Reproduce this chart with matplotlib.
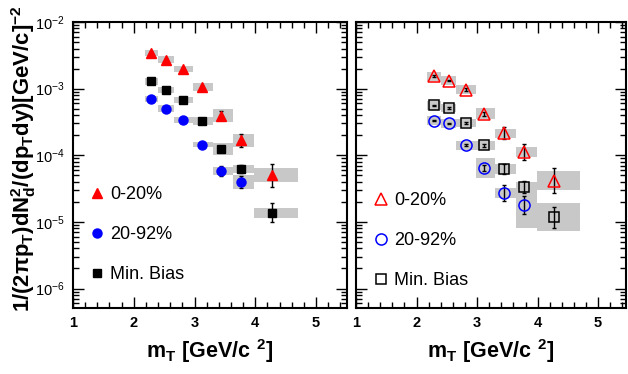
import numpy as np
import matplotlib
matplotlib.use('Agg')
import matplotlib.pyplot as plt
from matplotlib.ticker import MultipleLocator, LogLocator, NullFormatter

plt.rcParams['font.family'] = ['Liberation Sans', 'DejaVu Sans']
plt.rcParams['mathtext.fontset'] = 'custom'
plt.rcParams['mathtext.rm'] = 'Liberation Sans:bold'
plt.rcParams['mathtext.it'] = 'Liberation Sans:bold'
plt.rcParams['mathtext.bf'] = 'Liberation Sans:bold'
plt.rcParams['mathtext.default'] = 'rm'

# m_T bin edges and centres [GeV/c^2]
mt_edges = [2.18, 2.40, 2.66, 2.98, 3.30, 3.635, 3.985, 4.70]
mt = [2.29, 2.535, 2.815, 3.12, 3.44, 3.77, 4.275]

labels = ['0-20%', '20-92%', 'Min. Bias']

# left panel: yields, relative stat. and syst. errors
left_y = {
    '0-20%': [3.47e-3, 2.73e-3, 2.0e-3, 1.05e-3, 3.95e-4, 1.67e-4, 5.0e-5],
    '20-92%': [7.0e-4, 5.03e-4, 3.37e-4, 1.45e-4, 5.77e-5, 3.96e-5],
    'Min. Bias': [1.28e-3, 9.66e-4, 6.78e-4, 3.27e-4, 1.25e-4, 6.2e-5, 1.38e-5],
}
left_stat = {
    '0-20%': [0.03, 0.03, 0.03, 0.04, 0.17, 0.26, 0.48],
    '20-92%': [0.03, 0.03, 0.04, 0.05, 0.20, 0.24],
    'Min. Bias': [0.03, 0.03, 0.03, 0.04, 0.06, 0.15, 0.39],
}
left_sys = {
    '0-20%': [0.11, 0.12, 0.11, 0.14, 0.24, 0.24, 0.28],
    '20-92%': [0.10, 0.11, 0.10, 0.09, 0.14, 0.26],
    'Min. Bias': [0.12, 0.11, 0.11, 0.16, 0.22, 0.15, 0.19],
}

# right panel
right_y = {
    '0-20%': [1.53e-3, 1.32e-3, 9.66e-4, 4.17e-4, 2.15e-4, 1.12e-4, 4.17e-5],
    '20-92%': [3.31e-4, 3.0e-4, 1.41e-4, 6.45e-5, 2.75e-5, 1.8e-5],
    'Min. Bias': [5.6e-4, 5.13e-4, 3.05e-4, 1.41e-4, 6.3e-5, 3.39e-5, 1.17e-5],
}
right_stat = {
    '0-20%': [0.03, 0.03, 0.04, 0.06, 0.22, 0.34, 0.55],
    '20-92%': [0.03, 0.03, 0.04, 0.12, 0.32, 0.35],
    'Min. Bias': [0.03, 0.03, 0.04, 0.05, 0.19, 0.23, 0.45],
}
right_sys = {
    '0-20%': [0.18, 0.18, 0.16, 0.21, 0.17, 0.17, 0.38],
    '20-92%': [0.16, 0.17, 0.17, 0.41, 0.19, 1.19],
    'Min. Bias': [0.17, 0.15, 0.14, 0.16, 0.19, 0.17, 0.62],
}

styles = {
    '0-20%': dict(marker='^', color='#ff0000', ms=7.5),
    '20-92%': dict(marker='o', color='#0000ff', ms=6.5),
    'Min. Bias': dict(marker='s', color='black', ms=6.0),
}


def draw_panel(ax, yields, stat, sys, filled, leg_anchor):
    for lab in labels:
        y = np.array(yields[lab])
        n = len(y)
        x = np.array(mt[:n])
        lo_edge = np.array(mt_edges[:n])
        hi_edge = np.array(mt_edges[1:n + 1])
        s = np.array(sys[lab])
        st = np.array(stat[lab])
        # syst. boxes
        ax.bar(lo_edge, y * (1 + s) - y / (1 + s), bottom=y / (1 + s),
               width=hi_edge - lo_edge, align='edge', color='#c8c8c8',
               linewidth=0, zorder=1)
        # stat. errors
        yerr = [y - y / (1 + st), y * (1 + st) - y]
        ax.errorbar(x, y, yerr=yerr, fmt='none', ecolor='black',
                    elinewidth=1.0, capsize=1.5, capthick=1.0, zorder=2)
        st_ = styles[lab]
        if filled:
            ax.plot(x, y, ls='none', marker=st_['marker'], ms=st_['ms'],
                    color=st_['color'], mec=st_['color'], label=lab, zorder=3)
        else:
            ax.plot(x, y, ls='none', marker=st_['marker'], ms=st_['ms'] + 1.5,
                    mfc='none', mec=st_['color'], mew=1.1, label=lab, zorder=3)

    ax.set_yscale('log')
    ax.set_ylim(5.1e-7, 1e-2)
    ax.xaxis.set_major_locator(MultipleLocator(1))
    ax.xaxis.set_minor_locator(MultipleLocator(0.2))
    ax.yaxis.set_major_locator(LogLocator(base=10, numticks=10))
    ax.yaxis.set_minor_locator(LogLocator(base=10, subs=np.arange(2, 10), numticks=20))
    ax.yaxis.set_minor_formatter(NullFormatter())
    ax.tick_params(which='both', direction='in', top=True, right=True)
    ax.tick_params(which='major', length=8, width=1.0, labelsize=10.5, pad=6)
    ax.tick_params(which='minor', length=4, width=1.0)
    for sp in ax.spines.values():
        sp.set_linewidth(1.5)
    for t in ax.get_xticklabels():
        t.set_fontweight('bold')
    ax.set_xlabel(r'$m_{T}\ [GeV/c\ {}^{2}]$', fontsize=15.5, labelpad=5)
    ax.legend(loc='lower left', bbox_to_anchor=leg_anchor, frameon=False,
              fontsize=13, numpoints=1, handlelength=1.0, handletextpad=0.22,
              labelspacing=1.27, borderpad=0, borderaxespad=0)


fig = plt.figure(figsize=(6.28, 3.74), dpi=100)
ax1 = fig.add_axes([73 / 628, 66 / 374, 274 / 628, 286 / 374])
ax2 = fig.add_axes([356 / 628, 66 / 374, 270 / 628, 286 / 374])

draw_panel(ax1, left_y, left_stat, left_sys, filled=True, leg_anchor=(0.055, 0.087))
draw_panel(ax2, right_y, right_stat, right_sys, filled=False, leg_anchor=(0.059, 0.066))

ax1.set_xlim(1, 5.51)
ax2.set_xlim(1, 5.46)
ax2.tick_params(labelleft=False)

ax1.set_ylabel(r'$1/(2\pi p_{T})dN^{2}_{d}/(dp_{T}dy)[GeV/c]^{-2}$',
               fontsize=15.9)
ax1.yaxis.set_label_coords(-0.129, 0.523)

fig.savefig('out.png', dpi=100)
